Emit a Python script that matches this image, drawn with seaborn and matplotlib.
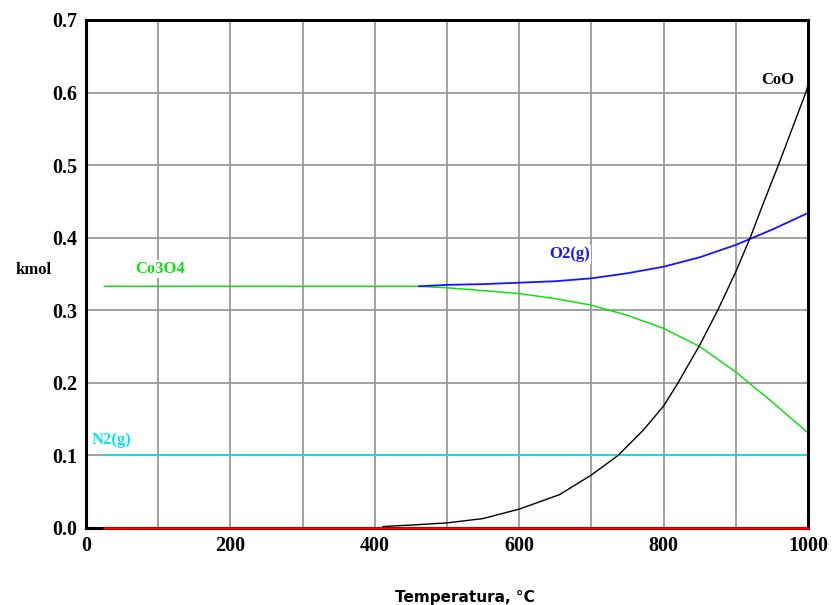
import pandas as pd
import matplotlib.pyplot as plt
import seaborn as sns

# values (kmol vs temperature, degC)
temp_co3o4 = [25, 100, 200, 300, 400, 460, 500, 550, 600, 650, 700, 750, 800, 850, 900, 950, 1000]
kmol_co3o4 = [0.333, 0.333, 0.333, 0.333, 0.333, 0.333, 0.331, 0.327, 0.323, 0.316, 0.307, 0.293, 0.275, 0.250, 0.215, 0.174, 0.131]

temp_o2 = [461, 500, 550, 600, 650, 700, 750, 800, 850, 900, 950, 1000]
kmol_o2 = [0.333, 0.335, 0.336, 0.338, 0.340, 0.344, 0.351, 0.360, 0.373, 0.390, 0.411, 0.434]

temp_coo = [411, 450, 500, 550, 600, 656, 700, 737, 772, 800, 820, 850, 875,
            900, 920, 938, 959, 997, 1000]
kmol_coo = [0.002, 0.004, 0.007, 0.013, 0.026, 0.046, 0.073, 0.100, 0.135, 0.168, 0.200, 0.252, 0.300,
            0.353, 0.400, 0.447, 0.500, 0.600, 0.610]

temp_n2 = [25, 1000]
kmol_n2 = [0.1, 0.1]

temp_red = [25, 1000]
kmol_red = [0.0, 0.0]

sns.set_style("whitegrid", {"grid.color": "#999999", "axes.edgecolor": "black"})

fig = plt.figure(figsize=(8.34, 6.05), dpi=100)
ax = fig.add_axes([0.1031, 0.1273, 0.8657, 0.8397])

sns.lineplot(x=temp_n2, y=kmol_n2, color="#00e8e8", linewidth=1.2, ax=ax, legend=False)
sns.lineplot(x=temp_co3o4, y=kmol_co3o4, color="#10e010", linewidth=1.1, ax=ax, legend=False)
sns.lineplot(x=temp_o2, y=kmol_o2, color="#1414ff", linewidth=1.3, ax=ax, legend=False)
sns.lineplot(x=temp_coo, y=kmol_coo, color="black", linewidth=1.0, ax=ax, legend=False)
red = sns.lineplot(x=temp_red, y=kmol_red, color="#ff0000", linewidth=1.8, ax=ax, legend=False)
red.lines[-1].set_clip_on(False)
red.lines[-1].set_zorder(5)

ax.set_xlim(0, 1000)
ax.set_ylim(0, 0.7)
ax.set_xticks(range(0, 1001, 100))
ax.set_xticklabels([str(t) if t % 200 == 0 else "" for t in range(0, 1001, 100)])
ax.set_yticks([i / 10 for i in range(8)])
ax.set_yticklabels(["%.1f" % (i / 10) for i in range(8)])
ax.grid(True, color="#999999", linewidth=1.3)
ax.tick_params(length=0, pad=6, labelcolor="black")
for lab in ax.get_xticklabels() + ax.get_yticklabels():
    lab.set_fontfamily("Liberation Serif")
    lab.set_fontweight("bold")
    lab.set_fontsize(14.5)
for s in ax.spines.values():
    s.set_linewidth(2.2)
    s.set_color("black")

# curve labels
box = dict(facecolor="white", edgecolor="none", pad=1)
ax.text(958, 0.617, "CoO", color="black", fontsize=12, fontweight="bold",
        family="Liberation Serif", ha="center", va="center", bbox=box)
ax.text(670, 0.377, "O2(g)", color="#1414ff", fontsize=12, fontweight="bold",
        family="Liberation Serif", ha="center", va="center", bbox=box)
ax.text(102, 0.357, "Co3O4", color="#10e010", fontsize=12, fontweight="bold",
        family="Liberation Serif", ha="center", va="center", bbox=box)
ax.text(8, 0.121, "N2(g)", color="#00e8e8", fontsize=12, fontweight="bold",
        family="Liberation Serif", ha="left", va="center")

fig.text(0.040, 0.554, "kmol", fontsize=12, fontweight="bold", family="Liberation Serif",
         ha="center", va="center", color="black")
fig.text(0.5576, 0.012, "Temperatura, °C", fontsize=11, fontweight="bold",
         family="DejaVu Sans", ha="center", va="center", color="black")

fig.savefig("out.png", dpi=100)
